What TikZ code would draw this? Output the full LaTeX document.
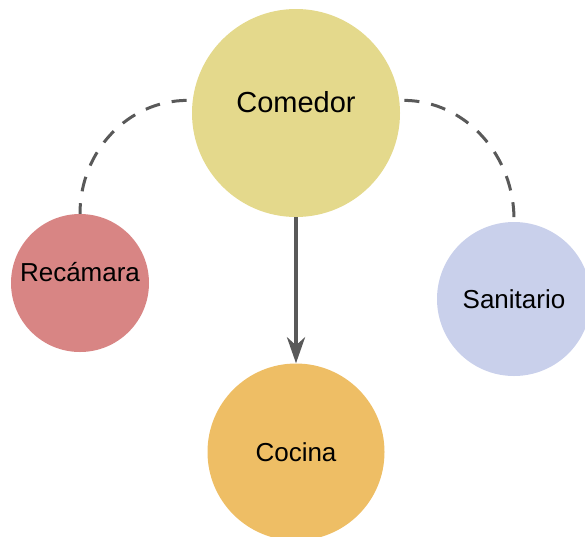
\documentclass[tikz,border=0pt]{standalone}
\usepackage{fontspec}
\setmainfont{Liberation Sans}
\usetikzlibrary{arrows.meta}
\definecolor{comedorfill}{HTML}{E4D98C}
\definecolor{recamarafill}{HTML}{D88584}
\definecolor{sanitariofill}{HTML}{C9D0EB}
\definecolor{cocinafill}{HTML}{EEBE65}
\definecolor{linkgray}{HTML}{595959}
\tikzset{
  room/.style={circle, draw=none, inner sep=0pt, text=black},
  link/.style={draw=linkgray, line width=3pt, dash pattern=on 15pt off 12pt},
  flow/.style={draw=linkgray, line width=4pt,
    -{Stealth[length=26pt, width=18pt, inset=8pt]}},
}
\begin{document}
\begin{tikzpicture}[x=1pt, y=-1pt]
  \useasboundingbox (0,0) rectangle (585,536);
  % rooms
  \node[room, fill=comedorfill, minimum size=208pt,
        label={[font=\fontsize{29}{34}\selectfont, yshift=11pt]center:Comedor}]
        (com) at (296,113) {};
  \node[room, fill=recamarafill, minimum size=138pt,
        label={[font=\fontsize{26}{31}\selectfont, yshift=11pt]center:Recámara}]
        (rec) at (80,283) {};
  \node[room, fill=sanitariofill, minimum size=154pt,
        font=\fontsize{26}{31}\selectfont] (san) at (514,299) {Sanitario};
  \node[room, fill=cocinafill, minimum size=177pt,
        font=\fontsize{26}{31}\selectfont] (coc) at (296,452) {Cocina};
  % dashed links
  \draw[link, shorten <=6pt] (com.173) .. controls (128,101) and (80,151) .. (rec.north);
  \draw[link, shorten <=5pt] (com.7) .. controls (465,101) and (515,155) .. (san.north);
  % main flow
  \draw[flow] (com.south) -- (coc.north);
\end{tikzpicture}
\end{document}
